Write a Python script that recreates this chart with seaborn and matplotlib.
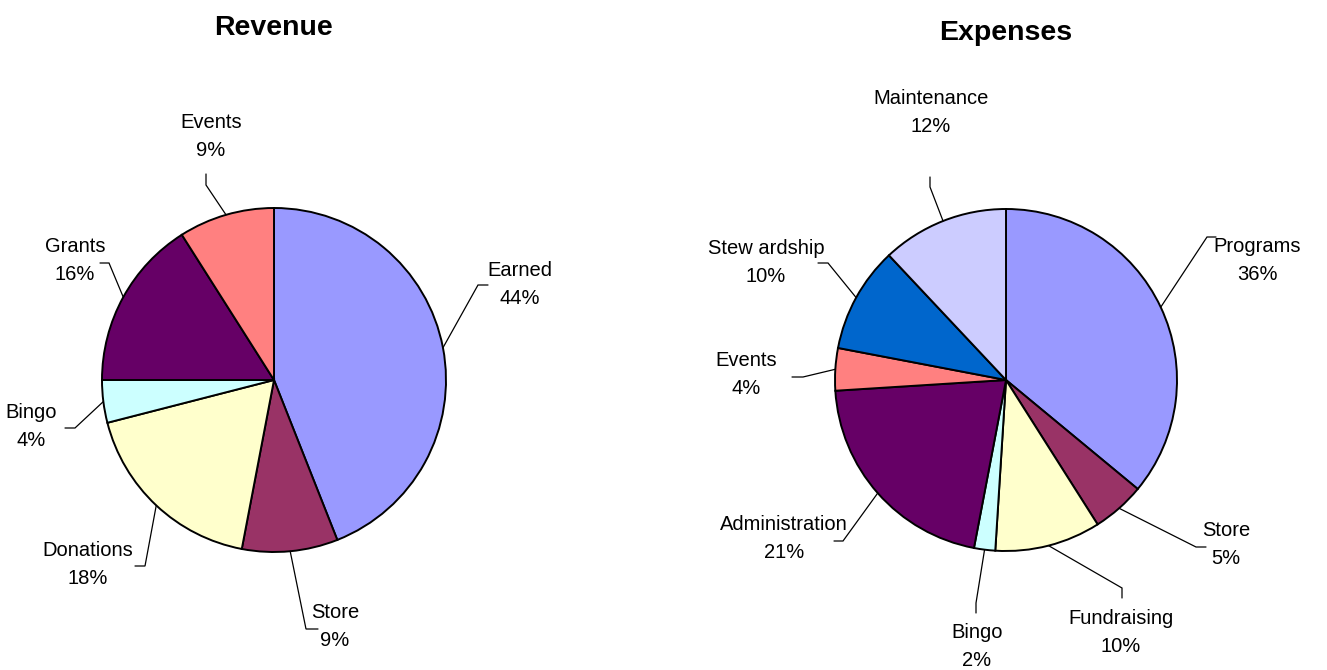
import numpy as np
import matplotlib
matplotlib.use("Agg")
import matplotlib.pyplot as plt
import seaborn as sns

# ---- data ----
rev_labels = ["Earned", "Store", "Donations", "Bingo", "Grants", "Events"]
rev_values = [44, 9, 18, 4, 16, 9]
rev_colors = ["#9999FF", "#993366", "#FFFFCC", "#CCFFFF", "#660066", "#FF8080"]

exp_labels = ["Programs", "Store", "Fundraising", "Bingo", "Administration",
              "Events", "Stew ardship", "Maintenance"]
exp_values = [36, 5, 10, 2, 21, 4, 10, 12]
exp_colors = ["#9999FF", "#993366", "#FFFFCC", "#CCFFFF", "#660066",
              "#FF8080", "#0066CC", "#CCCCFF"]

# ---- layout (pixel coords, y from top) ----
W, H = 1327, 670
rev_layout = dict(center=(274, 380), radius=172, title=("Revenue", 274, 28),
                  text=[(520, 285), (335, 627), (88, 565), (31, 426), (75, 261), (211, 137)],
                  elbow=[(478, 285), (306, 629), (145, 566), (75, 428), (109, 263), (206, 185)],
                  end=[(488, 285), (318, 629), (135, 566), (65, 428), (100, 263), (206, 174)])
exp_layout = dict(center=(1006, 380), radius=171, title=("Expenses", 1006, 33),
                  text=[(1257, 261), (1226, 545), (1121, 633), (977, 647), (784, 538),
                        (746, 375), (766, 262), (931, 113)],
                  elbow=[(1207, 237), (1196, 547), (1122, 588), (976, 603), (843, 541),
                         (803, 377), (828, 263), (930, 187)],
                  end=[(1216, 237), (1206, 547), (1122, 598), (976, 613), (834, 541),
                       (792, 377), (818, 263), (930, 177)])

sns.set_theme(style="white")
plt.rcParams['font.family'] = ['Liberation Sans', 'DejaVu Sans']

fig = plt.figure(figsize=(W / 100, H / 100), dpi=100)
ax = fig.add_axes([0, 0, 1, 1])


def fy(y):
    return H - y


def draw_pie(labels, values, colors, lay):
    cx, cy = lay["center"]
    r = lay["radius"]
    vals = np.asarray(values, dtype=float)
    ax.pie(vals, colors=colors, startangle=90, counterclock=False,
           center=(cx, fy(cy)), radius=r,
           wedgeprops=dict(edgecolor="black", linewidth=1.4))
    frac = np.cumsum(vals) / vals.sum() - vals / vals.sum() / 2
    ang = np.deg2rad(90 - frac * 360)
    for i, (lab, v) in enumerate(zip(labels, values)):
        sx = cx + r * np.cos(ang[i])
        sy = fy(cy) + r * np.sin(ang[i])
        ex, ey = lay["elbow"][i]
        tx, ty = lay["end"][i]
        ax.plot([sx, ex, tx], [sy, fy(ey), fy(ty)], color="black", lw=0.9,
                solid_joinstyle="miter")
        px, py = lay["text"][i]
        ax.text(px, fy(py), f"{lab}\n{v}%", ha="center", va="center",
                fontsize=14.5, linespacing=1.6, color="black")
    t, x, y = lay["title"]
    ax.text(x, fy(y), t, ha="center", va="center", fontsize=20.5,
            fontweight="bold", color="black")


draw_pie(rev_labels, rev_values, rev_colors, rev_layout)
draw_pie(exp_labels, exp_values, exp_colors, exp_layout)

ax.set_xlim(0, W)
ax.set_ylim(0, H)
ax.set_aspect("equal")
ax.axis("off")

fig.savefig("out.png", dpi=100, facecolor="white")
